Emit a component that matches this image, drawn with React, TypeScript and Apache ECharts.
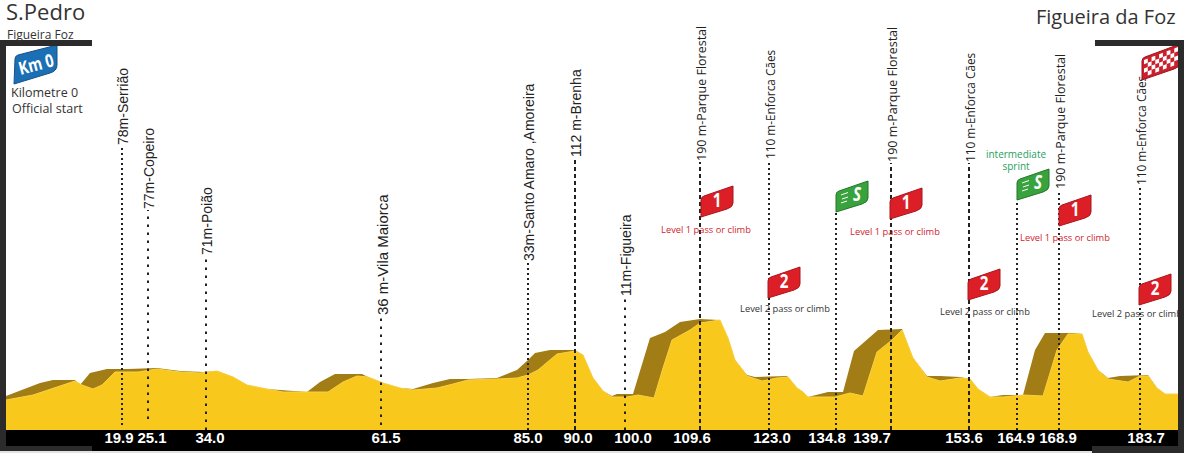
import React, { useEffect, useRef } from "react";
import * as echarts from "echarts";

// Profile: horizontal track position and relative height
const groundPos = [6,33,57,75,82,93,102,115,138,157,180,200,217,233,247,267,283,307,328,343,357,368,383,400,413,437,453,468,497,517,528,538,557,575,583,593,603,612,627,638,654,663,672,690,700,720,728,735,747,762,777,788,797,803,808,835,850,863,877,892,902,913,927,940,960,970,978,990,1003,1023,1043,1057,1068,1082,1088,1098,1108,1128,1140,1148,1157,1165,1178];
const groundHeight = [30,35,43,49,45,41,45,58,58,61,58,57,59,53,45,41,38,38,38,48,54,53,47,42,40,42,46,50,51,52,55,60,76,79,75,52,39,33,33,35,32,62,90,100,107,110,92,70,54,49,52,53,42,38,33,33,37,34,78,90,100,72,53,49,52,51,41,33,33,35,34,80,96,96,78,60,51,48,54,54,42,36,36];
const shadowPos = [6,40,53,75,80,90,107,128,157,180,203,217,233,247,267,280,307,320,335,362,368,383,400,413,433,450,468,497,517,528,535,550,575,583,593,603,612,617,633,650,665,680,700,719,728,735,747,755,787,797,803,808,828,843,854,878,902,913,927,940,960,970,978,990,1003,1023,1035,1045,1073,1082,1088,1098,1108,1120,1148,1157,1165,1178];
const shadowHeight = [34,47,50,50,45,57,61,61,62,59,58,59,53,45,41,40,38,48,56,56,53,47,42,41,47,51,51,52,60,70,77,80,80,75,52,39,34,36,36,92,98,108,111,110,92,70,55,53,54,42,38,33,38,38,79,100,101,72,54,54,53,51,41,33,35,35,80,97,97,96,78,60,52,54,55,42,36,36];

// Waypoints
const waypointNames = ["78m-Serrião","77m-Copeiro","71m-Poião","36 m-Vila Maiorca","33m-Santo Amaro ,Amoreira","112 m-Brenha","11m-Figueira","190 m-Parque Florestal","110 m-Enforca Cães","","190 m-Parque Florestal","110 m-Enforca Cães","","190 m-Parque Florestal","110 m-Enforca Cães"];
const waypointPos = [122,148,206,381,528,575,625,700,769,836,891,969,1017,1059,1140];
const waypointLow = [5,11,0,5,0,0,0,0,0,0,0,0,0,0,0];
const waypointTop = [284,220,174,114,168,272,133,268,270,218,267,267,230,240,244];
const waypointDash = ["fine","wide","wide","wide","fine","bold","wide","bold","fine","fine","bold","bold","fine","fine","fine"];
const waypointFont = ["a","a","a","b","a","a","a","c","d","a","c","d","a","c","d"];

// Distance labels
const kmLabels = ["19.9","25.1","34.0","61.5","85.0","90.0","100.0","109.6","123.0","134.8","139.7","153.6","164.9","168.9","183.7"];
const kmLabelPos = [119,152,210,386,528,578,633,692,772,827,872,964,1016,1058,1146];

// Flags
const flagKinds = ["km0","1","2","S","1","2","S","1","2","finish"];
const flagPos = [14,701,768,836,890,968,1017,1059,1139,1142];
const flagHeight = [346,213,132,218,211,130,230,204,125,350];

// Captions
const captionTexts = ["Level 1 pass or climb","Level 2 pass or climb","Level 1 pass or climb","Level 2 pass or climb","Level 1 pass or climb","Level 2 pass or climb","intermediate","sprint"];
const captionPos = [706,785,895,985,1065,1137,1016,1016];
const captionHeight = [201,122,199,119,193,117,276,264];
const captionKind = ["l1","l2","l1","l2","l1","l2","sprint","sprint"];

const SANS = '"Open Sans", "Noto Sans", sans-serif';
const ARIAL = '"Liberation Sans", Arial, sans-serif';
const DARK = "#2b2b2b";
const DASHES: Record<string, { dash: number[]; width: number }> = {
  fine: { dash: [2, 3], width: 2 },
  wide: { dash: [2.5, 5.5], width: 2 },
  bold: { dash: [4, 3], width: 2 },
};
const LABEL_FONTS: Record<string, { family: string; size: number }> = {
  a: { family: ARIAL, size: 14 },
  b: { family: ARIAL, size: 15 },
  c: { family: SANS, size: 12.5 },
  d: { family: SANS, size: 11.8 },
};
const CAPTION_COLORS: Record<string, string> = { l1: "#d0252f", l2: "#333333", sprint: "#1fa060" };
const CAPTION_SIZES: Record<string, number> = { l1: 9.3, l2: 9.3, sprint: 10 };
const FLAG_SHAPES: Record<string, { d: string; w: number; h: number; fill: string; stroke: string }> = {
  km0: { d: "M0 39 L1 14 Q1 11 4 10 L43 0 L43 20 Q43 26 36 28 Z", w: 43, h: 39, fill: "#1b6fb4", stroke: "#17518a" },
  "1": { d: "M0 31 L0 14 Q0 11 3 10 L32 0 L32 17 Q32 21 26 23 Z", w: 32, h: 31, fill: "#dc1f27", stroke: "#a8161d" },
  "2": { d: "M0 31 L0 14 Q0 11 3 10 L32 0 L32 17 Q32 21 26 23 Z", w: 32, h: 31, fill: "#dc1f27", stroke: "#a8161d" },
  S: { d: "M0 31 L0 14 Q0 11 3 10 L32 0 L32 17 Q32 21 26 23 Z", w: 32, h: 31, fill: "#38a33c", stroke: "#24752a" },
  finish: { d: "M0 36 L0 17 Q0 14 3 13 L38 0 L38 19 Q38 23 32 25 Z", w: 38, h: 36, fill: "#c9202c", stroke: "#9c1520" },
};

function flagChildren(kind: string) {
  const s = FLAG_SHAPES[kind];
  const shape = { pathData: s.d, layout: "cover", x: 0, y: 0, width: s.w, height: s.h };
  const kids: any[] = [{ type: "path", shape, style: { fill: s.fill, stroke: s.stroke, lineWidth: 1 } }];
  const glyph = (text: string, x: number, y: number, size: number, rot: number, extra: any = {}) => ({
    type: "text", x, y, rotation: rot, scaleX: 0.8,
    style: { text, fill: "#ffffff", fontFamily: SANS, fontWeight: "bold", fontSize: size, align: "center", verticalAlign: "middle", ...extra },
  });
  if (kind === "km0") kids.push(glyph("Km 0", 22, 19, 18, 0.26));
  if (kind === "1" || kind === "2") kids.push(glyph(kind, 16, 14, 19, 0));
  if (kind === "S") {
    kids.push(glyph("S", 21, 13, 19, 0, { fontStyle: "italic" }));
    [[5, 14, 12, 11.5], [6, 18, 12, 16], [5, 22, 11, 20]].forEach((l) =>
      kids.push({ type: "line", shape: { x1: l[0], y1: l[1], x2: l[2], y2: l[3] }, style: { stroke: "#ffffff", lineWidth: 1 } })
    );
  }
  if (kind === "finish") {
    const cols = 9, rows = 4;
    const pt = (u: number, v: number) => [2 + u * 34, 16 - u * 13 + v * 17];
    for (let i = 0; i < cols; i++) {
      for (let j = 0; j < rows; j++) {
        if ((i + j) % 2) continue;
        kids.push({
          type: "polygon",
          shape: { points: [pt(i / cols, j / rows), pt((i + 1) / cols, j / rows), pt((i + 1) / cols, (j + 1) / rows), pt(i / cols, (j + 1) / rows)] },
          style: { fill: "#ffffff" },
        });
      }
    }
  }
  return kids;
}

export default function App() {
  const ref = useRef<HTMLDivElement>(null);
  useEffect(() => {
    document.body.style.margin = "0";
    const chart = echarts.init(ref.current!, null, { renderer: "svg" });
    const frame = (x: number, y: number, width: number, height: number, fill: string) => ({
      type: "rect", shape: { x, y, width, height }, style: { fill }, z: 50,
    });
    const title = (text: string, x: number, y: number, fontSize: number, color = "#333333") => ({
      type: "text", x, y, z: 60,
      style: { text, fontSize, fontFamily: SANS, fill: color, verticalAlign: "middle" },
    });
    chart.setOption({
      animation: false,
      grid: { left: 0, top: 0, width: 1186, height: 430, containLabel: false },
      xAxis: {
        type: "value", min: 0, max: 1186, z: 70,
        splitLine: { show: false }, axisLine: { show: false }, axisTick: { show: false },
        axisLabel: {
          customValues: kmLabelPos, hideOverlap: false, showMinLabel: true, showMaxLabel: true,
          formatter: (v: number) => kmLabels[kmLabelPos.indexOf(v)] ?? "",
          color: "#ffffff", fontFamily: ARIAL, fontWeight: "bold", fontSize: 15, margin: 0,
        },
      },
      yAxis: { type: "value", min: 0, max: 430, show: false, splitLine: { show: false } },
      graphic: {
        elements: [
          frame(6, 430, 1172, 21, "#000000"),
          frame(0, 40, 92, 6, DARK),
          frame(0, 40, 6, 411, DARK),
          frame(0, 446, 92, 5, DARK),
          frame(1095, 40, 89, 6, DARK),
          frame(1178, 40, 6, 413, DARK),
          frame(1092, 446, 92, 7, DARK),
          frame(0, 451, 1092, 2, "#e2e2e2"),
          title("S.Pedro", 6, 11, 22),
          title("Figueira Foz", 7, 34, 12),
          title("Kilometre 0", 11, 92, 12.5),
          title("Official start", 12, 108, 12.5),
          title("Figueira da Foz", 1036, 16, 20),
        ],
      },
      series: [
        {
          type: "line", name: "shadow", data: shadowPos.map((x, i) => [x, shadowHeight[i]]),
          showSymbol: false, z: 2, lineStyle: { width: 0 }, itemStyle: { color: "#a27c14" },
          areaStyle: { color: "#a27c14", opacity: 1 },
        },
        {
          type: "line", name: "profile", data: groundPos.map((x, i) => [x, groundHeight[i]]),
          showSymbol: false, z: 3, lineStyle: { width: 1, color: "#f9d045" }, itemStyle: { color: "#f8c81c" },
          areaStyle: { color: "#f8c81c", opacity: 1 },
        },
        {
          type: "custom", name: "waypoints", z: 4, clip: false,
          data: waypointPos.map((x, i) => [x, waypointTop[i]]),
          renderItem: (p: any, api: any) => {
            const i = p.dataIndex;
            const [x, top] = api.coord([waypointPos[i], waypointTop[i]]);
            const [, low] = api.coord([waypointPos[i], waypointLow[i]]);
            const d = DASHES[waypointDash[i]];
            const children: any[] = [
              { type: "line", shape: { x1: x, y1: low, x2: x, y2: top }, style: { stroke: "#222222", lineWidth: d.width, lineDash: d.dash } },
            ];
            if (waypointNames[i]) {
              const f = LABEL_FONTS[waypointFont[i]];
              children.push({
                type: "text", x: x + 1, y: top - 1, rotation: Math.PI / 2,
                style: { text: waypointNames[i], fontFamily: f.family, fontSize: f.size, fill: "#222222", align: "left", verticalAlign: "middle" },
              });
            }
            return { type: "group", children };
          },
        },
        {
          type: "custom", name: "flags", z: 5, clip: false,
          data: flagPos.map((x, i) => [x, flagHeight[i]]),
          renderItem: (p: any, api: any) => {
            const i = p.dataIndex;
            const [x, y] = api.coord([flagPos[i], flagHeight[i]]);
            const s = FLAG_SHAPES[flagKinds[i]];
            return { type: "group", x, y: y - s.h, children: flagChildren(flagKinds[i]) };
          },
        },
        {
          type: "custom", name: "captions", z: 6, clip: false,
          data: captionPos.map((x, i) => [x, captionHeight[i]]),
          renderItem: (p: any, api: any) => {
            const i = p.dataIndex;
            const [x, y] = api.coord([captionPos[i], captionHeight[i]]);
            const k = captionKind[i];
            return {
              type: "text", x, y,
              style: { text: captionTexts[i], fontFamily: SANS, fontSize: CAPTION_SIZES[k], fill: CAPTION_COLORS[k], align: "center", verticalAlign: "middle" },
            };
          },
        },
      ],
    });
    return () => chart.dispose();
  }, []);
  return <div ref={ref} style={{ position: "fixed", left: 0, top: 0, width: 1186, height: 453, background: "#ffffff" }} />;
}
